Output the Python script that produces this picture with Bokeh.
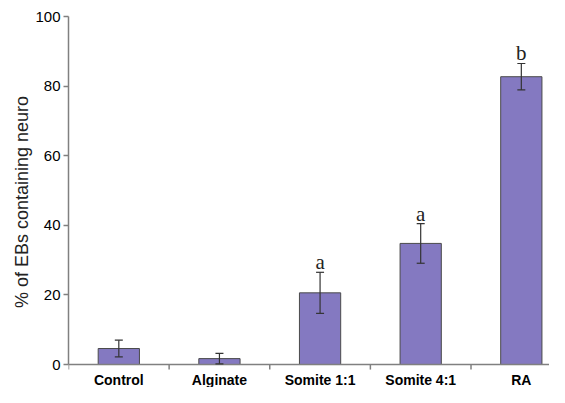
from bokeh.plotting import figure
from bokeh.models import Range1d, FixedTicker, ColumnDataSource, Whisker, TeeHead, Span
from bokeh.core.properties import value
from bokeh.embed import file_html
from bokeh.resources import INLINE

categories = ["Control", "Alginate", "Somite 1:1", "Somite 4:1", "RA"]
means = [4.6, 1.7, 20.6, 34.8, 82.7]
errors = [2.4, 1.5, 5.9, 5.7, 3.8]
letters = ["", "", "a", "a", "b"]
y_ticks = [0, 20, 40, 60, 80, 100]

xs = [i + 0.5 for i in range(len(categories))]
src = ColumnDataSource(dict(
    x=xs, top=means,
    lower=[m - e for m, e in zip(means, errors)],
    upper=[m + e for m, e in zip(means, errors)],
    letter=letters,
))
bounds = list(range(len(categories) + 1))
tick_src = ColumnDataSource(dict(x=bounds, y0=[0] * len(bounds), y1=[-1.45] * len(bounds)))
lab_src = ColumnDataSource(dict(x=xs, y=[0] * len(xs), text=categories))

p = figure(width=549, height=387, output_backend="svg", toolbar_location=None,
           x_range=Range1d(0, 4.78), y_range=Range1d(-6.6, 100),
           min_border_left=68, min_border_top=16, min_border_bottom=0, min_border_right=0)
p.outline_line_color = None
p.xgrid.visible = False
p.ygrid.visible = False
p.xaxis.visible = False
p.background_fill_color = "white"

p.vbar(x="x", top="top", bottom=0, width=0.41, source=src,
       fill_color="#8479C1", line_color="#4a4a4a", line_width=1)

w = Whisker(base="x", lower="lower", upper="upper", source=src, level="overlay",
            line_color="#333333", line_width=1.2,
            upper_head=TeeHead(size=8, line_color="#333333", line_width=1.2),
            lower_head=TeeHead(size=8, line_color="#333333", line_width=1.2))
p.add_layout(w)

p.text(x="x", y="upper", text="letter", source=src,
       text_font=value("Liberation Serif"), text_font_size="21px",
       text_align="center", text_baseline="bottom", y_offset=2,
       text_color="#222222")

# category axis (line at y=0, ticks at boundaries, labels at centres)
p.add_layout(Span(location=0, dimension="width", line_color="#808080", line_width=1.5))
p.segment(x0="x", y0="y0", x1="x", y1="y1", source=tick_src, line_color="#808080", line_width=1.5)
p.text(x="x", y="y", text="text", source=lab_src,
       text_font=value("Liberation Sans"), text_font_style="bold", text_font_size="14px",
       text_align="center", text_baseline="top", y_offset=7, text_color="black")

ya = p.yaxis[0]
ya.ticker = FixedTicker(ticks=y_ticks, minor_ticks=[])
ya.bounds = (0, 100)
ya.major_tick_in = 0
ya.major_tick_out = 5
ya.major_tick_line_color = "#808080"
ya.major_tick_line_width = 1.5
ya.axis_line_color = "#808080"
ya.axis_line_width = 1.5
ya.major_label_text_font = "Liberation Sans"
ya.major_label_text_font_size = "15px"
ya.major_label_text_color = "black"
ya.major_label_standoff = 3
ya.axis_label = "% of EBs containing neuro"
ya.axis_label_text_font = "Liberation Sans"
ya.axis_label_text_font_style = "normal"
ya.axis_label_text_font_size = "18px"
ya.axis_label_text_color = "#222222"
ya.axis_label_standoff = 0

open("out.html", "w").write(file_html(p, INLINE))
